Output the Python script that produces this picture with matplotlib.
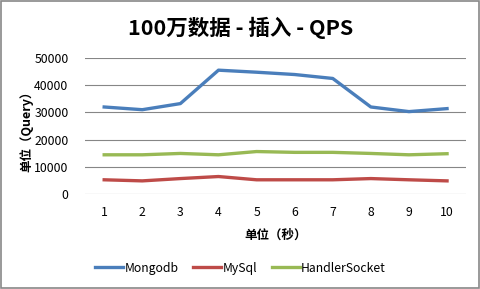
import matplotlib.pyplot as plt
from matplotlib.patches import Rectangle

plt.rcParams['font.family'] = ['Noto Sans CJK SC', 'DejaVu Sans']

seconds = list(range(1, 11))
mongodb = [32000, 31000, 33250, 45550, 44800, 43950, 42500, 32000, 30300, 31400]
mysql = [5200, 4800, 5650, 6400, 5200, 5200, 5200, 5650, 5200, 4800]
handlersocket = [14400, 14400, 14900, 14400, 15600, 15300, 15300, 14900, 14400, 14800]
yticks = [0, 10000, 20000, 30000, 40000, 50000]

fig = plt.figure(figsize=(4.81, 2.89), dpi=100)
ax = fig.add_axes([0.177, 0.329, 0.792, 0.470])

ax.plot(seconds, mongodb, c='#4A7EBB', lw=2.4, label='Mongodb')
ax.plot(seconds, mysql, c='#BE4B48', lw=2.4, label='MySql')
ax.plot(seconds, handlersocket, c='#98B954', lw=2.4, label='HandlerSocket')

ax.set_xlim(0.5, 10.5)
ax.set_ylim(0, 50000)
ax.set_xticks(seconds)
ax.set_yticks(yticks)
ax.tick_params(length=0, labelsize=8.8, colors='black')
ax.tick_params(axis='x', pad=9)
ax.tick_params(axis='y', pad=12)
ax.grid(True, axis='y', color='#868686', lw=0.8)
ax.set_axisbelow(True)
for s in ax.spines.values():
    s.set_visible(False)

ax.set_ylabel('单位（Query）', fontsize=9, fontweight='bold')
ax.yaxis.set_label_coords(-0.136, 0.48)
ax.set_xlabel('单位（秒）', fontsize=9, fontweight='bold')
ax.xaxis.set_label_coords(0.5, -0.26)
fig.text(0.5, 0.905, '100万数据 - 插入 - QPS', ha='center', va='center',
         fontsize=15.5, fontweight='bold')

fig.legend(loc='center', bbox_to_anchor=(0.5, 0.072), ncol=3, frameon=False,
           fontsize=8.8, handlelength=2.3, handletextpad=0.1, columnspacing=1.2)

fig.patches.append(Rectangle((0.002, 0.003), 0.994, 0.992, transform=fig.transFigure,
                             fill=False, ec='#888888', lw=1.2))

fig.savefig('out.png', dpi=100)
